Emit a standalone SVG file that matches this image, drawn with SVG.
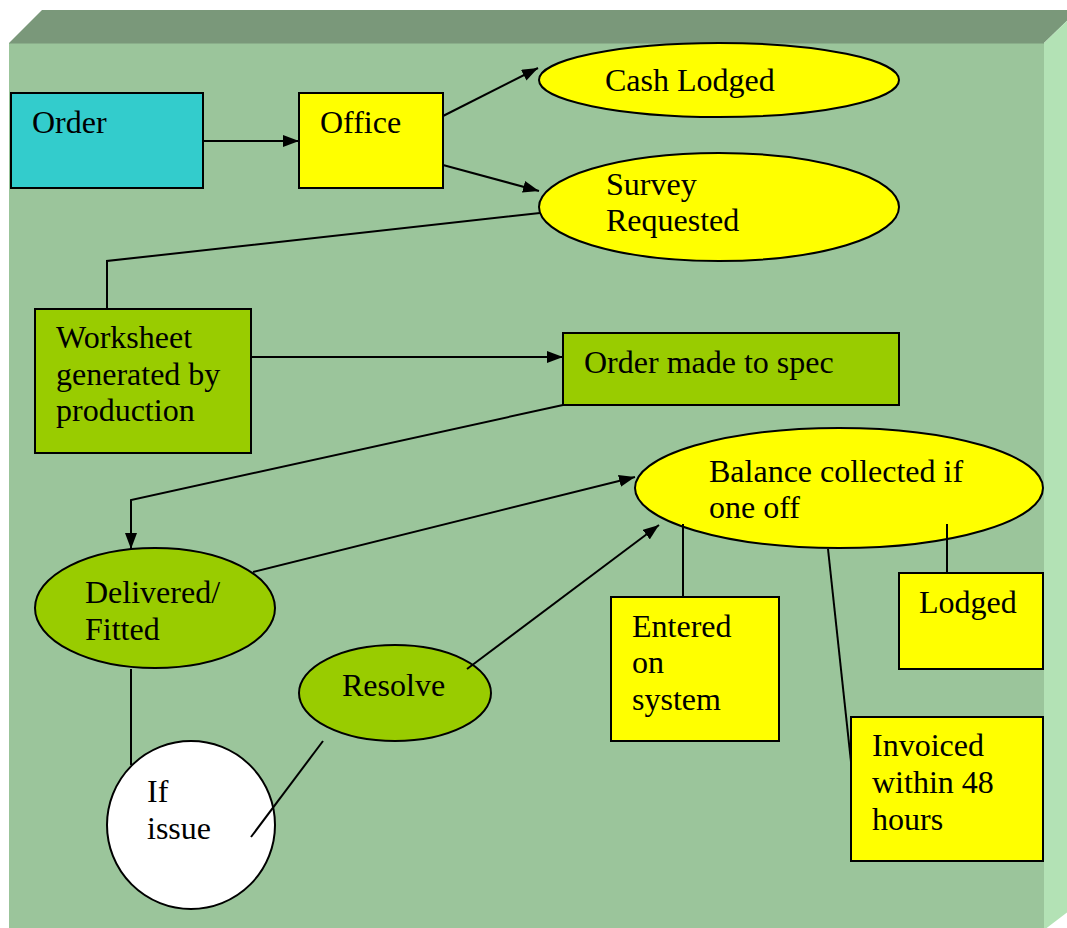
<svg xmlns="http://www.w3.org/2000/svg" width="1067" height="928" viewBox="0 0 1067 928">
<defs>
<marker id="ah" markerWidth="16" markerHeight="12" refX="16" refY="6" orient="auto" markerUnits="userSpaceOnUse">
<path d="M0,0 L16,6 L0,12 Z" fill="#000"/>
</marker>
<style>
.n{stroke:#000;stroke-width:2}
.t{font-family:"Liberation Serif","Times New Roman",serif;font-size:32px;fill:#000}
.c{fill:none;stroke:#000;stroke-width:2}
.y{fill:#ffff00}
.g{fill:#99cc00}
</style>
</defs>
<rect width="1067" height="928" fill="#fff"/>
<g id="backdrop">
<polygon points="9,43 42,10 1078,10 1044,43" fill="#7a987a"/>
<rect x="9" y="43" width="1035" height="900" fill="#9bc59b"/>
<polygon points="1044,43 1078,10 1078,904 1044,930" fill="#b3e2b5"/>
<line x1="9" y1="43.5" x2="1044" y2="43.5" stroke="#8aae8a" stroke-width="1"/>
</g>
<g id="order">
<rect class="n" x="11" y="93" width="192" height="95" fill="#33cccc"/>
<text class="t" x="32" y="133">Order</text>
</g>
<g id="office">
<rect class="n y" x="299" y="93" width="144" height="95"/>
<text class="t" x="320" y="133">Office</text>
</g>
<g id="cash-lodged">
<ellipse class="n y" cx="719" cy="80" rx="180" ry="37"/>
<text class="t" x="605" y="91">Cash Lodged</text>
</g>
<g id="survey-requested">
<ellipse class="n y" cx="719" cy="207" rx="180" ry="54"/>
<text class="t" x="606" y="195">Survey</text>
<text class="t" x="606" y="231">Requested</text>
</g>
<g id="worksheet">
<rect class="n g" x="35" y="309" width="216" height="144"/>
<text class="t" x="56" y="348">Worksheet</text>
<text class="t" x="56" y="385">generated by</text>
<text class="t" x="56" y="421">production</text>
</g>
<g id="order-made">
<rect class="n g" x="563" y="333" width="336" height="72"/>
<text class="t" x="584" y="373">Order made to spec</text>
</g>
<g id="delivered">
<ellipse class="n g" cx="155" cy="608" rx="120" ry="60"/>
<text class="t" x="85" y="603">Delivered/</text>
<text class="t" x="85" y="640">Fitted</text>
</g>
<g id="balance">
<ellipse class="n y" cx="839" cy="488" rx="204" ry="60"/>
<text class="t" x="709" y="482">Balance collected if</text>
<text class="t" x="709" y="518">one off</text>
</g>
<g id="resolve">
<ellipse class="n g" cx="395" cy="693" rx="96" ry="48"/>
<text class="t" x="342" y="696">Resolve</text>
</g>
<g id="if-issue">
<ellipse class="n" cx="191" cy="825" rx="84" ry="84" fill="#fff"/>
<text class="t" x="147" y="802">If</text>
<text class="t" x="147" y="839">issue</text>
</g>
<g id="entered">
<rect class="n y" x="611" y="597" width="168" height="144"/>
<text class="t" x="632" y="637">Entered</text>
<text class="t" x="632" y="673">on</text>
<text class="t" x="632" y="710">system</text>
</g>
<g id="lodged">
<rect class="n y" x="899" y="573" width="144" height="96"/>
<text class="t" x="919" y="613">Lodged</text>
</g>
<g id="invoiced">
<rect class="n y" x="851" y="717" width="192" height="144"/>
<text class="t" x="872" y="756">Invoiced</text>
<text class="t" x="872" y="793">within 48</text>
<text class="t" x="872" y="830">hours</text>
</g>
<g id="connectors">
<path class="c" d="M203,141 L299,141" marker-end="url(#ah)"/>
<path class="c" d="M443,116 L538,68" marker-end="url(#ah)"/>
<path class="c" d="M443,165 L539,191" marker-end="url(#ah)"/>
<path class="c" d="M540,213 L107,261 L107,309"/>
<path class="c" d="M251,357 L563,357" marker-end="url(#ah)"/>
<path class="c" d="M563,405 L131,500 L131,549" marker-end="url(#ah)"/>
<path class="c" d="M253,572 L635,477" marker-end="url(#ah)"/>
<path class="c" d="M467,669 L659,525" marker-end="url(#ah)"/>
<path class="c" d="M131,669 L131,765"/>
<path class="c" d="M323,741 L251,837"/>
<path class="c" d="M683,597 L683,524"/>
<path class="c" d="M947,573 L947,524"/>
<path class="c" d="M828,549 L851,762"/>
</g>
</svg>
